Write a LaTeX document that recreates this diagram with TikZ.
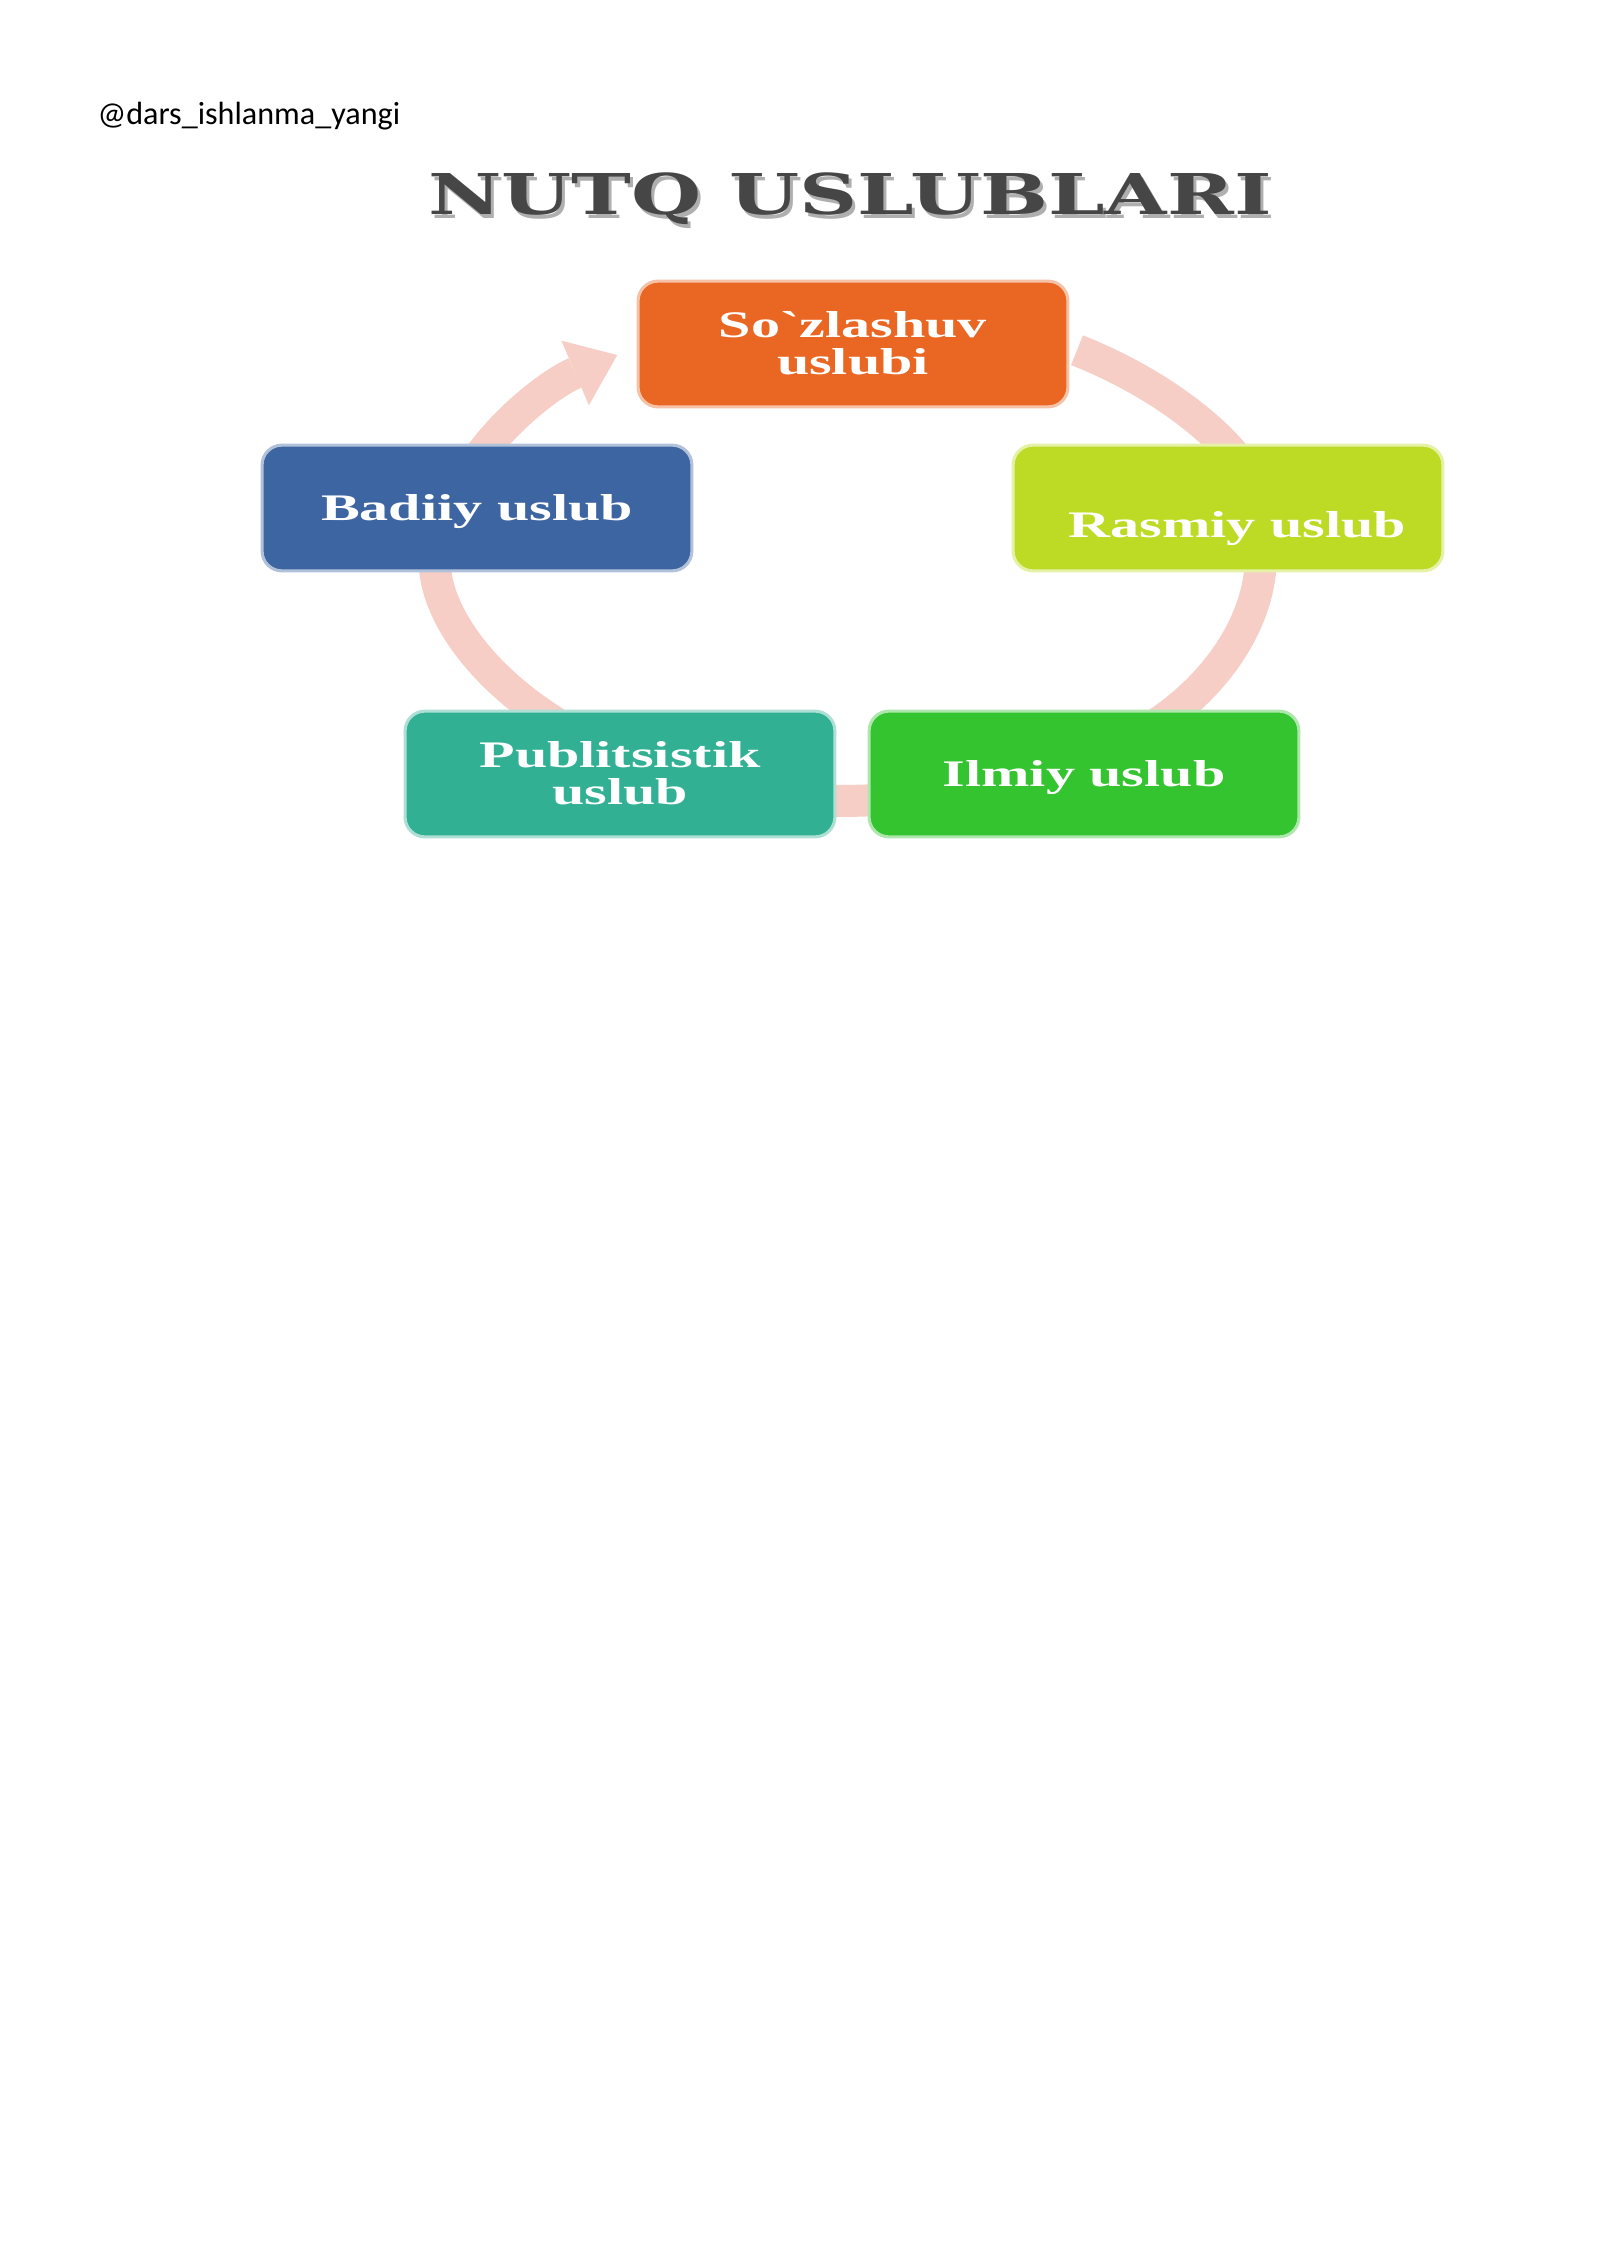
\documentclass[tikz,border=0pt]{standalone}
\usepackage{fontspec}
\setmainfont{Liberation Serif}
\newfontfamily\wmfont{Carlito}
\newfontfamily\ttlfont{DejaVu Serif}
\usetikzlibrary{arrows.meta}
\definecolor{orng}{RGB}{233,102,35}
\definecolor{blu}{RGB}{61,101,161}
\definecolor{ylw}{RGB}{189,219,36}
\definecolor{teal2}{RGB}{49,176,148}
\definecolor{grn}{RGB}{51,196,47}
\definecolor{bandpink}{RGB}{246,206,198}
\definecolor{ttlgray}{RGB}{70,70,70}
\definecolor{ttlshadow}{RGB}{175,175,175}
\newcommand\boxtxt[2][-0.057cm]{\raisebox{#1}[\height][\depth]{\scalebox{1.55}[1]{\begin{tabular}{@{}c@{}}#2\end{tabular}}}}
\begin{document}
\begin{tikzpicture}[x=0.013125cm,y=0.013125cm,
  sbox/.style={rounded corners=0.26cm, minimum width=5.64cm, minimum height=1.65cm,
    inner sep=0pt, line width=0.04cm, text=white,
    font=\bfseries\fontsize{14pt}{13pt}\selectfont},
  band/.style={line width=0.42cm, draw=bandpink},
  headtip/.style={-{Triangle[width=0.92cm,length=0.6cm,line width=0pt]}}
]
\fill[white] (0,0) rectangle (1600,-2262);
\useasboundingbox (0,0) rectangle (1600,-2262);

% watermark
\node[anchor=base west, inner sep=0pt, font=\wmfont\fontsize{12pt}{14pt}\selectfont] (wm) at (97,-125) {@dars\_ishlanma\_yangi};

% title with shadow
\node[anchor=base, inner sep=0pt, text=ttlshadow, font=\ttlfont\bfseries\fontsize{21pt}{21pt}\selectfont] (titleshadow) at (853,-219) {\scalebox{1.43}[1]{NUTQ USLUBLARI}};
\node[anchor=base, inner sep=0pt, text=ttlgray, font=\ttlfont\bfseries\fontsize{21pt}{21pt}\selectfont] (title) at (850,-215) {\scalebox{1.43}[1]{NUTQ USLUBLARI}};

% cycle arcs
\coordinate (ec) at (853,-555);
\path (ec) ++(160:408 and 245) coordinate (a1)
      (ec) ++(56.7:408 and 245) coordinate (a2)
      (ec) ++(0:408 and 245) coordinate (a3)
      (ec) ++(-75:408 and 245) coordinate (a4)
      (ec) ++(-125:408 and 245) coordinate (a5);
\draw[band, headtip] (a1) arc[start angle=160, end angle=125.3, x radius=408, y radius=245];
\draw[band, headtip] (a2) arc[start angle=56.7, end angle=5, x radius=408, y radius=245];
\draw[band, headtip] (a3) arc[start angle=0, end angle=-60, x radius=408, y radius=245];
\draw[band, headtip] (a4) arc[start angle=-75, end angle=-110, x radius=408, y radius=245];
\draw[band, headtip] (a5) arc[start angle=-125, end angle=-195, x radius=408, y radius=245];

% boxes
\node[sbox, fill=orng, draw=orng!40!white] (soz) at (853,-344) {\boxtxt{So\textasciigrave zlashuv\\uslubi}};
\node[sbox, fill=blu, draw=blu!40!white] (bad) at (477,-508) {\boxtxt{Badiiy uslub}};
\node[sbox, fill=ylw, draw=ylw!40!white] (ras) at (1228,-508) {\hspace*{0.25cm}\boxtxt[-0.29cm]{Rasmiy uslub}};
\node[sbox, fill=teal2, draw=teal2!40!white] (pub) at (620,-774) {\boxtxt{Publitsistik\\uslub}};
\node[sbox, fill=grn, draw=grn!40!white] (ilm) at (1084,-774) {\boxtxt{Ilmiy uslub}};
\end{tikzpicture}
\end{document}
